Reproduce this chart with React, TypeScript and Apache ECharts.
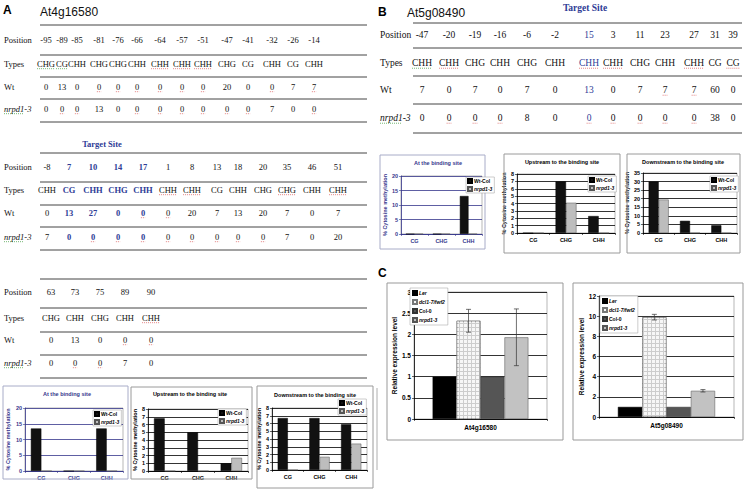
import React, { useEffect, useRef } from "react";
import * as echarts from "echarts";

// ---------------- DATA ----------------
const contexts = ["CG", "CHG", "CHH"];
const seriesNames = ["Wt-Col", "nrpd1-3"];

// Panel A (At4g16580) – % cytosine methylation
const aBindingWt = [13.5, 0, 13.5];
const aBindingNrpd = [0, 0, 0];
const aUpstreamWt = [6.8, 5.0, 1.0];
const aUpstreamNrpd = [0, 0, 1.7];
const aDownstreamWt = [6.7, 6.7, 5.9];
const aDownstreamNrpd = [0, 1.7, 3.4];

// Panel B (At5g08490)
const bBindingWt = [0, 0, 13.1];
const bBindingNrpd = [0, 0, 0];
const bUpstreamWt = [0, 7.0, 2.3];
const bUpstreamNrpd = [0, 4.1, 0];
const bDownstreamWt = [30, 7.1, 4.5];
const bDownstreamNrpd = [19.5, 0, 0];

// Panel C – relative expression
const genotypes = ["Ler", "dcl1-7/fwf2", "Col-0", "nrpd1-3"];
const at4Expr = [1.0, 2.32, 1.0, 1.93];
const at4Err = [0, 0.27, 0, 0.67];
const at5Expr = [1.0, 9.9, 1.0, 2.6];
const at5Err = [0, 0.28, 0, 0.12];

// Tables (panel A, three blocks)
const a1Positions = [-95, -89, -85, -81, -76, -66, -64, -57, -51, -47, -41, -32, -26, -14];
const a1Types = ["CHG", "CG", "CHH", "CHG", "CHG", "CHH", "CHH", "CHH", "CHH", "CHG", "CG", "CHH", "CG", "CHH"];
const a1Wt = [0, 13, 0, 0, 0, 0, 0, 0, 0, 20, 0, 0, 7, 7];
const a1Nrpd = [0, 0, 0, 13, 0, 0, 0, 0, 0, 0, 0, 7, 0, 0];

const a2Positions = [-8, 7, 10, 14, 17, 1, 8, 13, 18, 20, 35, 46, 51];
const a2Types = ["CHH", "CG", "CHH", "CHG", "CHH", "CHH", "CHH", "CG", "CHH", "CHG", "CHG", "CHH", "CHH"];
const a2Wt = [0, 13, 27, 0, 0, 0, 20, 7, 13, 20, 7, 0, 7];
const a2Nrpd = [7, 0, 0, 0, 0, 0, 0, 0, 0, 0, 7, 0, 20];

const a3Positions = [63, 73, 75, 89, 90];
const a3Types = ["CHG", "CHH", "CHG", "CHH", "CHH"];
const a3Wt = [0, 13, 0, 0, 0];
const a3Nrpd = [0, 0, 0, 7, 0];

// Table panel B
const bPositions = [-47, -20, -19, -16, -6, -2, 15, 3, 11, 23, 27, 31, 39];
const bTypes = ["CHH", "CHH", "CHG", "CHH", "CHG", "CHH", "CHH", "CHH", "CHG", "CHH", "CHH", "CG", "CG"];
const bWt = [7, 0, 7, 0, 7, 0, 13, 0, 7, 7, 7, 60, 0];
const bNrpd = [0, 0, 0, 0, 8, 0, 0, 0, 0, 0, 0, 38, 0];

const rowLabels = ["Position", "Types", "Wt", "nrpd1-3"];

// ---------------- STYLE / LAYOUT ----------------
const SANS = "Liberation Sans";
const SERIF = "Liberation Serif";
const NAVY = "#35368c";
const TBLUE = "#2e3c96";
const RED_UL = "#d85050";
const GREEN_UL = "#3a9a3a";

const tables = [
  {
    positions: a1Positions, types: a1Types, wt: a1Wt, nrpd: a1Nrpd,
    cols: [46, 62, 77, 99, 118, 137, 160, 182, 203, 227, 248, 272, 293, 314],
    rowsY: [40, 64, 87, 109], labelX: 4, size: 8.5, blue: [] as number[], blueBold: true,
    ulTypesRed: [6, 7, 8], ulTypesGreen: [0, 1], ulWt: [3, 4, 5, 6, 7, 8, 11, 13], ulNrpd: [1, 2, 5, 6, 7, 8, 9, 10, 13],
  },
  {
    positions: a2Positions, types: a2Types, wt: a2Wt, nrpd: a2Nrpd,
    cols: [47, 69, 93, 118, 143, 168, 192, 217, 238, 263, 287, 312, 338],
    rowsY: [167, 190, 213, 237], labelX: 4, size: 8.5, blue: [1, 2, 3, 4], blueBold: true,
    ulTypesRed: [5, 6, 10, 12], ulTypesGreen: [] as number[], ulWt: [4, 5], ulNrpd: [2, 3, 4, 5, 6, 7, 8, 9],
  },
  {
    positions: a3Positions, types: a3Types, wt: a3Wt, nrpd: a3Nrpd,
    cols: [51, 75, 100, 125, 151],
    rowsY: [292, 318, 340, 363], labelX: 4, size: 8.5, blue: [] as number[], blueBold: true,
    ulTypesRed: [4], ulTypesGreen: [] as number[], ulWt: [3, 4], ulNrpd: [1, 2],
  },
  {
    positions: bPositions, types: bTypes, wt: bWt, nrpd: bNrpd,
    cols: [422, 449, 475, 500, 527, 555, 589, 613, 640, 665, 694, 715, 733],
    rowsY: [35, 63, 90, 118], labelX: 380, size: 9.5, blue: [6], blueBold: false,
    ulTypesRed: [1, 6, 7, 10, 12], ulTypesGreen: [0], ulWt: [9, 10], ulNrpd: [1, 2, 3, 6, 7, 8, 9, 10],
  },
];

const tableLinesA = [25, 55, 77, 99, 122, 153, 182, 205, 227, 250, 279, 308, 332, 355, 378];
const tableLinesB = [23, 48, 76, 104, 133];

const smallCharts = [
  { box: [3, 386, 125, 93], grid: [25, 408, 98, 63], title: "At the binding site", tx: 67, ty: 394, wt: aBindingWt, nr: aBindingNrpd, max: 20, step: 5, legend: [93, 410], gap: 14, navy: true },
  { box: [131, 387, 121, 92], grid: [148, 409, 100, 62], title: "Upstream to the binding site", tx: 190, ty: 394, wt: aUpstreamWt, nr: aUpstreamNrpd, max: 8, step: 1, legend: [218, 409], gap: 9, navy: false },
  { box: [257, 386, 116, 102], grid: [272, 408, 95, 62], title: "Downstream to the binding site", tx: 315, ty: 395, wt: aDownstreamWt, nr: aDownstreamNrpd, max: 8, step: 1, legend: [338, 399], gap: 8, navy: false },
  { box: [380, 155, 105, 94], grid: [401, 176, 81, 58], title: "At the binding site", tx: 438, ty: 163, wt: bBindingWt, nr: bBindingNrpd, max: 20, step: 5, legend: [466, 177], gap: 12, navy: true },
  { box: [504, 154, 116, 99], grid: [517, 174, 98, 59], title: "Upstream to the binding site", tx: 562, ty: 162, wt: bUpstreamWt, nr: bUpstreamNrpd, max: 8, step: 1, legend: [588, 176], gap: 7, navy: false },
  { box: [627, 154, 113, 99], grid: [643, 173, 94, 60], title: "Downstream to the binding site", tx: 683, ty: 162, wt: bDownstreamWt, nr: bDownstreamNrpd, max: 35, step: 5, legend: [710, 176], gap: 10, navy: false },
];

const exprCharts = [
  { box: [387, 283, 176, 157], grid: [414, 292, 133, 127], gene: "At4g16580", vals: at4Expr, errs: at4Err, max: 3, step: 0.5, legend: [410, 288], gap: 15 },
  { box: [573, 283, 170, 157], grid: [599, 296, 135, 121], gene: "At5g08490", vals: at5Expr, errs: at5Err, max: 12, step: 2, legend: [600, 296], gap: 11 },
];

const genotypeStyles = [
  { color: "#000000", borderColor: "#000", borderWidth: 0.5 },
  {
    color: "#cdcdcd", borderColor: "#777", borderWidth: 0.6,
    decal: { symbol: "rect", symbolSize: 1, color: "#f7f7f7", dashArrayX: [3, 1], dashArrayY: [3, 1], rotation: 0 },
  },
  { color: "#555555", borderColor: "#333", borderWidth: 0.5 },
  { color: "#c2c2c2", borderColor: "#666", borderWidth: 0.6 },
];
const C_GAP = 0.28;

// ---------------- HELPERS ----------------
function txt(x: number, y: number, text: string, o: any = {}) {
  return {
    type: "text",
    x, y, silent: true, z: o.z || 50,
    style: {
      text, fill: o.fill || "#111",
      fontSize: o.size || 9,
      fontFamily: o.family || SERIF,
      fontWeight: o.weight || "normal",
      fontStyle: o.style || "normal",
      textAlign: o.align || "center", textVerticalAlign: "middle",
      align: o.align || "center", verticalAlign: "middle",
    },
  };
}
function hline(x1: number, x2: number, y: number, stroke = "#333", lw = 1, dash?: number[]) {
  return {
    type: "line", silent: true, z: 40,
    shape: { x1, y1: y, x2, y2: y },
    style: { stroke, lineWidth: lw, lineDash: dash },
  };
}
function textWidth(s: string, size: number) {
  let w = 0;
  for (const ch of s) w += /[A-Z]/.test(ch) ? 0.7 : ch === "-" ? 0.33 : 0.5;
  return w * size;
}

function tableGraphics(t: any) {
  const els: any[] = [];
  const rows = [t.positions.map(String), t.types, t.wt.map(String), t.nrpd.map(String)];
  const ul = [[], t.ulTypesRed, t.ulWt, t.ulNrpd];
  rowLabels.forEach((lab: string, r: number) => {
    const y = t.rowsY[r];
    els.push(txt(t.labelX, y, lab, { size: t.size, align: "left", style: r === 3 ? "italic" : "normal" }));
    if (r === 3) {
      els.push(hline(t.labelX, t.labelX + textWidth("nrpd", t.size) + 2, y + t.size * 0.55, GREEN_UL, 0.7, [1, 1]));
    }
    rows[r].forEach((v: string, c: number) => {
      const isBlue = t.blue.includes(c);
      els.push(txt(t.cols[c], y, v, {
        size: t.size,
        fill: isBlue ? TBLUE : "#111",
        weight: isBlue && t.blueBold ? "bold" : "normal",
      }));
      const w = textWidth(v, t.size);
      if (ul[r].includes(c)) els.push(hline(t.cols[c] - w / 2, t.cols[c] + w / 2, y + t.size * 0.55, RED_UL, 0.7, [1, 1]));
      if (r === 1 && t.ulTypesGreen.includes(c)) els.push(hline(t.cols[c] - w / 2, t.cols[c] + w / 2, y + t.size * 0.55, GREEN_UL, 0.7, [1, 1]));
    });
  });
  return els;
}

function errorBars(axisIdx: number, vals: number[], errs: number[]) {
  const data = vals
    .map((v, i) => [0, v - errs[i], v + errs[i], i])
    .filter((_, i) => errs[i] > 0);
  return {
    type: "custom",
    xAxisIndex: axisIdx, yAxisIndex: axisIdx,
    data, z: 10, silent: true,
    encode: { x: 0, y: [1, 2] },
    renderItem: (_params: any, api: any) => {
      const lo = api.coord([api.value(0), api.value(1)]);
      const hi = api.coord([api.value(0), api.value(2)]);
      const band = api.size([1, 0])[0];
      const bw = (band * (1 - C_GAP)) / genotypes.length;
      const x = lo[0] + (api.value(3) - (genotypes.length - 1) / 2) * bw;
      const cap = 2.5;
      const st = { stroke: "#333", lineWidth: 0.7 };
      return {
        type: "group",
        children: [
          { type: "line", shape: { x1: x, y1: lo[1], x2: x, y2: hi[1] }, style: st },
          { type: "line", shape: { x1: x - cap, y1: hi[1], x2: x + cap, y2: hi[1] }, style: st },
          { type: "line", shape: { x1: x - cap, y1: lo[1], x2: x + cap, y2: lo[1] }, style: st },
        ],
      };
    },
  };
}

function buildOption() {
  const grid: any[] = [];
  const xAxis: any[] = [];
  const yAxis: any[] = [];
  const series: any[] = [];
  const legend: any[] = [];
  const graphics: any[] = [];

  // ---- headings ----
  graphics.push(txt(3, 10, "A", { size: 12, weight: "bold", family: SANS, align: "left", fill: "#000" }));
  graphics.push(txt(40, 12, "At4g16580", { size: 12, family: SANS, align: "left", fill: "#111" }));
  graphics.push(txt(378, 12, "B", { size: 12, weight: "bold", family: SANS, align: "left", fill: "#000" }));
  graphics.push(txt(407, 13, "At5g08490", { size: 12, family: SANS, align: "left", fill: "#111" }));
  graphics.push(txt(378, 273, "C", { size: 12, weight: "bold", family: SANS, align: "left", fill: "#000" }));
  graphics.push(txt(102, 144, "Target Site", { size: 8.5, weight: "bold", fill: TBLUE }));
  graphics.push(txt(585, 8, "Target Site", { size: 9.5, weight: "bold", fill: TBLUE }));

  // ---- table rules ----
  tableLinesA.forEach((y) => graphics.push(hline(40, 367, y, "#444", 1)));
  tableLinesB.forEach((y) => graphics.push(hline(413, 742, y, "#444", 1)));
  tables.forEach((t) => graphics.push(...tableGraphics(t)));

  // panel separator line
  graphics.push({ type: "line", silent: true, shape: { x1: 377, y1: 388, x2: 377, y2: 470 }, style: { stroke: "#999", lineWidth: 0.8 } });

  // ---- small methylation charts ----
  smallCharts.forEach((c, i) => {
    const col = c.navy ? NAVY : "#000";
    graphics.push({
      type: "rect", silent: true, z: 1,
      shape: { x: c.box[0], y: c.box[1], width: c.box[2], height: c.box[3] },
      style: { fill: "none", stroke: c.navy ? "#a8acc8" : "#9a9a9a", lineWidth: 1 },
    });
    graphics.push(txt(c.tx, c.ty, c.title, { size: 5.5, weight: "bold", family: SANS, fill: col }));
    grid.push({
      left: c.grid[0], top: c.grid[1], width: c.grid[2], height: c.grid[3],
      show: true, borderColor: "#888", borderWidth: 0.6, backgroundColor: "transparent",
    });
    xAxis.push({
      type: "category", gridIndex: i, data: contexts,
      axisLine: { lineStyle: { color: col, width: 0.8 } },
      axisTick: { show: true, length: 2, lineStyle: { color: col, width: 0.6 } },
      axisLabel: { fontSize: 5.5, fontWeight: "bold", color: col, fontFamily: SANS, margin: 4 },
    });
    yAxis.push({
      type: "value", gridIndex: i, min: 0, max: c.max, interval: c.step,
      name: "% Cytosine methylation", nameLocation: "middle", nameGap: c.gap,
      nameTextStyle: { fontSize: 5.5, fontWeight: "bold", color: col, fontFamily: SANS },
      axisLine: { show: true, lineStyle: { color: col, width: 0.8 } },
      axisTick: { show: true, length: 2, lineStyle: { color: col, width: 0.6 } },
      axisLabel: { fontSize: 5.5, fontWeight: "bold", color: col, fontFamily: SANS, margin: 3 },
      splitLine: { show: true, lineStyle: { color: col, width: 0.8 } },
    });
    series.push({
      type: "bar", name: seriesNames[0], xAxisIndex: i, yAxisIndex: i, data: c.wt,
      barGap: "0%", barCategoryGap: "36%",
      itemStyle: { color: "#111", borderColor: "#000", borderWidth: 0.5 },
    });
    series.push({
      type: "bar", name: seriesNames[1], xAxisIndex: i, yAxisIndex: i, data: c.nr,
      barGap: "0%", barCategoryGap: "36%",
      itemStyle: { color: "#bdbdbd", borderColor: "#555", borderWidth: 0.5 },
    });
    legend.push({
      data: seriesNames, left: c.legend[0], top: c.legend[1], orient: "vertical",
      itemWidth: 4, itemHeight: 4, itemGap: 2, padding: [1, 2, 1, 1],
      backgroundColor: "#fff", borderColor: "#999", borderWidth: 0.5,
      icon: "rect", selectedMode: false, z: 20,
      formatter: (n: string) => (n === "Wt-Col" ? n : `{i|${n}}`),
      textStyle: {
        fontSize: 5, fontWeight: "bold", fontFamily: SANS, color: "#000", padding: [0, 0, 0, -3],
        rich: { i: { fontSize: 5, fontWeight: "bold", fontStyle: "italic", fontFamily: SANS, color: "#000" } },
      },
    });
  });

  // ---- expression charts ----
  exprCharts.forEach((c, k) => {
    const i = smallCharts.length + k;
    graphics.push({
      type: "rect", silent: true, z: 1,
      shape: { x: c.box[0], y: c.box[1], width: c.box[2], height: c.box[3] },
      style: { fill: "none", stroke: "#999", lineWidth: 1 },
    });
    grid.push({
      left: c.grid[0], top: c.grid[1], width: c.grid[2], height: c.grid[3],
      show: true, borderColor: "#888", borderWidth: 0.6, backgroundColor: "transparent",
    });
    xAxis.push({
      type: "category", gridIndex: i, data: [c.gene],
      axisLine: { lineStyle: { color: "#000", width: 0.8 } },
      axisTick: { show: true, length: 2, lineStyle: { color: "#000", width: 0.6 } },
      axisLabel: { fontSize: 6.5, fontWeight: "bold", color: "#000", fontFamily: SANS, margin: 5 },
    });
    yAxis.push({
      type: "value", gridIndex: i, min: 0, max: c.max, interval: c.step,
      name: "Relative expression level", nameLocation: "middle", nameGap: c.gap,
      nameTextStyle: { fontSize: 6.5, fontWeight: "bold", color: "#000", fontFamily: SANS },
      axisLine: { show: true, lineStyle: { color: "#000", width: 0.8 } },
      axisTick: { show: true, length: 2, lineStyle: { color: "#000", width: 0.6 } },
      axisLabel: { fontSize: 6.5, fontWeight: "bold", color: "#000", fontFamily: SANS, margin: 3 },
      splitLine: { show: true, lineStyle: { color: "#000", width: 0.8 } },
    });
    genotypes.forEach((g, gi) => {
      series.push({
        type: "bar", name: g, xAxisIndex: i, yAxisIndex: i, data: [c.vals[gi]],
        barGap: "0%", barCategoryGap: `${C_GAP * 100}%`,
        itemStyle: genotypeStyles[gi],
      });
    });
    series.push(errorBars(i, c.vals, c.errs));
    legend.push({
      data: genotypes, left: c.legend[0], top: c.legend[1], orient: "vertical",
      itemWidth: 4, itemHeight: 4, itemGap: 3, padding: [2, 3, 2, 2],
      backgroundColor: "#fff", borderColor: "#999", borderWidth: 0.5,
      icon: "rect", selectedMode: false, z: 20,
      formatter: (n: string) => (n === "Col-0" ? n : `{i|${n}}`),
      textStyle: {
        fontSize: 5, fontWeight: "bold", fontFamily: SANS, color: "#000", padding: [0, 0, 0, -3],
        rich: { i: { fontSize: 5, fontWeight: "bold", fontStyle: "italic", fontFamily: SANS, color: "#000" } },
      },
    });
  });

  return {
    animation: false,
    backgroundColor: "#fff",
    textStyle: { fontFamily: SANS },
    grid, xAxis, yAxis, series, legend,
    graphic: { elements: graphics },
  };
}

export default function App() {
  const ref = useRef<HTMLDivElement>(null);
  useEffect(() => {
    if (!ref.current) return;
    const chart = echarts.init(ref.current, undefined, { renderer: "svg" });
    chart.setOption(buildOption() as any);
    return () => chart.dispose();
  }, []);
  return (
    <div
      ref={ref}
      style={{ position: "fixed", left: 0, top: 0, width: 745, height: 491, background: "#fff" }}
    />
  );
}
